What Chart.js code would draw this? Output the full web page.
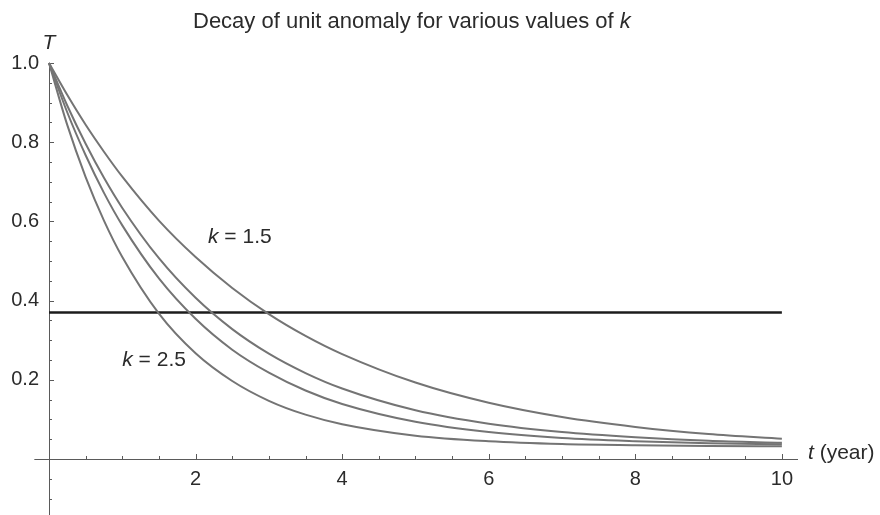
<!DOCTYPE html>
<html>
<head>
<meta charset="utf-8">
<script src="https://cdn.jsdelivr.net/npm/chart.js@4.4.0/dist/chart.umd.min.js"></script>
<style>
  html, body { margin: 0; padding: 0; background: #fff; }
  #wrap { width: 880px; height: 515px; }
</style>
</head>
<body>
<div id="wrap"><canvas id="chart" width="880" height="515"></canvas></div>
<script>
// time axis (years) and the four decay curves
const tValues    = [0, 0.25, 0.5, 0.75, 1, 1.5, 2, 2.5, 3, 3.5, 4, 5, 6, 7, 8, 9, 10];
const decayK15   = [1, 0.919, 0.844, 0.776, 0.713, 0.602, 0.510, 0.432, 0.366, 0.311, 0.265, 0.193, 0.142, 0.106, 0.081, 0.063, 0.051];
const decayMidA  = [1, 0.892, 0.796, 0.710, 0.634, 0.507, 0.407, 0.328, 0.266, 0.217, 0.178, 0.123, 0.089, 0.068, 0.055, 0.046, 0.041];
const decayMidB  = [1, 0.875, 0.767, 0.672, 0.590, 0.456, 0.354, 0.276, 0.218, 0.173, 0.139, 0.094, 0.068, 0.053, 0.045, 0.040, 0.037];
const decayK25   = [1, 0.843, 0.712, 0.602, 0.510, 0.367, 0.267, 0.197, 0.147, 0.112, 0.088, 0.059, 0.045, 0.038, 0.035, 0.033, 0.032];

// horizontal reference level (1/e)
const refLevel = 0.37;
const refSpan  = [0, 10];

const xTickValues = [2, 4, 6, 8, 10];
const yTickValues = [0.2, 0.4, 0.6, 0.8, 1.0];

const FONT = "'Liberation Sans', Arial, Helvetica, sans-serif";
const CURVE_COLOR = '#747474';
const AXIS_COLOR = '#5a5a5a';

const toPoints = (arr) => arr.map((v, i) => ({ x: tValues[i], y: v }));

const curve = (label, arr) => ({
    label: label,
    data: toPoints(arr),
    borderColor: CURVE_COLOR,
    borderWidth: 2,
    cubicInterpolationMode: 'monotone',
    pointRadius: 0,
    fill: false,
    clip: false
});

// axes, ticks and text drawn Mathematica-style
const decorPlugin = {
    id: 'decor',
    beforeDatasetsDraw(chart) {
        const { ctx, scales: { x, y } } = chart;
        const x0 = x.getPixelForValue(0);
        const y0 = y.getPixelForValue(0);
        ctx.save();
        ctx.strokeStyle = AXIS_COLOR;
        ctx.lineWidth = 1;

        // axis lines
        ctx.beginPath();
        ctx.moveTo(x.getPixelForValue(-0.2), y0 + 0.5);
        ctx.lineTo(x.getPixelForValue(x.max), y0 + 0.5);
        ctx.moveTo(x0 + 0.5, y.getPixelForValue(1));
        ctx.lineTo(x0 + 0.5, chart.height);
        ctx.stroke();

        // x ticks (inward, minor every 0.5)
        ctx.beginPath();
        for (let i = 1; i <= 20; i++) {
            const v = i * 0.5;
            const px = Math.round(x.getPixelForValue(v)) + 0.5;
            const len = (i % 4 === 0) ? 5 : 3;
            ctx.moveTo(px, y0);
            ctx.lineTo(px, y0 - len);
        }
        // y ticks (inward, minor every 0.05), also below zero
        for (let i = -2; i <= 20; i++) {
            if (i === 0) continue;
            const v = i * 0.05;
            const py = Math.round(y.getPixelForValue(v)) + 0.5;
            const len = (i % 4 === 0) ? 5 : 3;
            ctx.moveTo(x0, py);
            ctx.lineTo(x0 + len, py);
        }
        ctx.stroke();
        ctx.restore();
    },
    afterDraw(chart) {
        const { ctx, scales: { x, y } } = chart;
        ctx.save();
        ctx.fillStyle = '#2b2b2b';
        ctx.textBaseline = 'middle';

        const mixed = (parts, left, cy, size) => {
            let px = left;
            parts.forEach(([txt, italic]) => {
                ctx.font = (italic ? 'italic ' : '') + size + 'px ' + FONT;
                ctx.fillText(txt, px, cy);
                px += ctx.measureText(txt).width;
            });
        };

        // title
        ctx.textAlign = 'left';
        mixed([['Decay of unit anomaly for various values of ', false], ['k', true]], 193, 22, 22);

        // axis labels
        ctx.textAlign = 'center';
        ctx.font = 'italic 21px ' + FONT;
        ctx.fillText('T', x.getPixelForValue(0), 43);
        ctx.textAlign = 'left';
        mixed([['t', true], [' (year)', false]], 808, y.getPixelForValue(0) - 6, 21);

        // curve annotations
        mixed([['k', true], [' = 1.5', false]], x.getPixelForValue(2.17), y.getPixelForValue(0.56), 21);
        mixed([['k', true], [' = 2.5', false]], x.getPixelForValue(1.0), y.getPixelForValue(0.25), 21);
        ctx.restore();
    }
};

const ctx = document.getElementById('chart').getContext('2d');
new Chart(ctx, {
    type: 'line',
    data: {
        datasets: [
            curve('k = 1.5', decayK15),
            curve('k mid A', decayMidA),
            curve('k mid B', decayMidB),
            curve('k = 2.5', decayK25),
            {
                label: '1/e',
                data: refSpan.map(t => ({ x: t, y: refLevel })),
                borderColor: '#1c1c1c',
                borderWidth: 2.6,
                pointRadius: 0,
                fill: false,
                clip: false
            }
        ]
    },
    options: {
        responsive: false,
        animation: false,
        events: [],
        layout: { padding: { left: 0, top: 63, right: 82, bottom: 0 } },
        plugins: {
            legend: { display: false },
            tooltip: { enabled: false },
            title: { display: false }
        },
        scales: {
            x: {
                type: 'linear',
                min: 0,
                max: 10.22,
                grid: { display: false, drawTicks: false },
                border: { display: false },
                afterFit: (s) => { s.height = 56; },
                afterBuildTicks: (s) => { s.ticks = xTickValues.map(v => ({ value: v })); },
                ticks: {
                    font: { family: FONT, size: 20 },
                    color: '#2b2b2b',
                    padding: 8,
                    maxRotation: 0,
                    autoSkip: false
                }
            },
            y: {
                type: 'linear',
                min: 0,
                max: 1,
                grid: { display: false, drawTicks: false },
                border: { display: false },
                afterFit: (s) => { s.width = 49; },
                afterBuildTicks: (s) => { s.ticks = yTickValues.map(v => ({ value: v })); },
                ticks: {
                    font: { family: FONT, size: 20 },
                    color: '#2b2b2b',
                    padding: 10,
                    callback: (v) => Number(v).toFixed(1)
                }
            }
        }
    },
    plugins: [decorPlugin]
});
</script>
</body>
</html>
